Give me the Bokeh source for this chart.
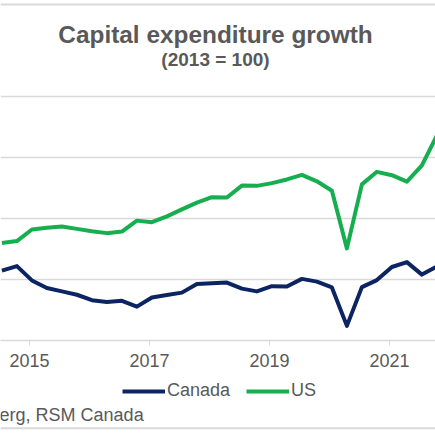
from bokeh.plotting import figure
from bokeh.layouts import column
from bokeh.models import (Range1d, FixedTicker, Grid, Label, Legend, LegendItem,
                          ColumnDataSource, Span)
from bokeh.embed import file_html
from bokeh.resources import INLINE

# Quarterly data, 2014Q3 .. 2021Q4 (index, 2013 = 100)
quarters = ["2014Q3", "2014Q4",
            "2015Q1", "2015Q2", "2015Q3", "2015Q4",
            "2016Q1", "2016Q2", "2016Q3", "2016Q4",
            "2017Q1", "2017Q2", "2017Q3", "2017Q4",
            "2018Q1", "2018Q2", "2018Q3", "2018Q4",
            "2019Q1", "2019Q2", "2019Q3", "2019Q4",
            "2020Q1", "2020Q2", "2020Q3", "2020Q4",
            "2021Q1", "2021Q2", "2021Q3", "2021Q4"]
canada = [102.9, 104.4,
          99.7, 97.2, 96.1, 95.0,
          93.2, 92.6, 93.0, 91.1,
          94.1, 94.9, 95.7, 98.5,
          98.8, 99.0, 97.0, 96.1,
          97.8, 97.7, 100.2, 99.3,
          97.4, 84.8, 97.5, 99.8,
          104.1, 105.7, 101.6, 104.3]
us = [112.0, 112.6,
      116.4, 117.0, 117.4, 116.6,
      115.8, 115.2, 115.7, 119.3,
      118.8, 120.7, 123.0, 125.2,
      127.0, 126.9, 130.8, 130.7,
      131.6, 132.8, 134.3, 132.2,
      129.1, 110.2, 131.2, 135.3,
      134.2, 132.1, 137.4, 147.2]
year_ticks = [2015, 2017, 2019, 2021]
grid_values = [100, 120, 140, 160]

# quarter -> decimal year (observation dated mid first month of quarter)
t = [int(q[:4]) + (int(q[-1]) - 1) / 4 + 0.04 for q in quarters]
src = ColumnDataSource(dict(t=t, canada=canada, us=us))

NAVY = "#0c2462"
GREEN = "#17ae50"
GRAY_TXT = "#595959"
GRID = "#d9d9d9"
FONT = "Liberation Sans"

# ---- main chart ----
p = figure(width=435, height=375, output_backend="svg", toolbar_location=None,
           x_range=Range1d(2014.5167, 2021.7667), y_range=Range1d(80, 191.475),
           y_axis_location=None, min_border_left=0, min_border_right=0,
           min_border_top=0, min_border_bottom=35)
p.outline_line_color = None
p.xgrid.visible = False
p.ygrid.visible = False
p.add_layout(Grid(dimension=1, ticker=FixedTicker(ticks=grid_values),
                  grid_line_color=GRID, grid_line_width=1.5))
# top border line of the chart box
p.add_layout(Span(location=190.2, dimension="width", line_color=GRID, line_width=2))

ax = p.xaxis[0]
ax.ticker = FixedTicker(ticks=year_ticks)
ax.axis_line_color = GRID
ax.axis_line_width = 1.5
ax.major_tick_line_color = GRID
ax.major_tick_in = 0
ax.major_tick_out = 5
ax.minor_tick_line_color = None
ax.major_label_text_font = FONT
ax.major_label_text_font_size = "18px"
ax.major_label_text_color = GRAY_TXT
ax.major_label_standoff = 8

p.line("t", "canada", source=src, line_color=NAVY, line_width=4, line_join="round")
p.line("t", "us", source=src, line_color=GREEN, line_width=4, line_join="round")

p.add_layout(Label(x=215, y=306, x_units="screen", y_units="screen",
                   text="Capital expenditure growth", text_align="center",
                   text_baseline="alphabetic", text_font=FONT,
                   text_font_size="24.4px", text_font_style="bold",
                   text_color=GRAY_TXT))
p.add_layout(Label(x=215, y=281, x_units="screen", y_units="screen",
                   text="(2013 = 100)", text_align="center",
                   text_baseline="alphabetic", text_font=FONT,
                   text_font_size="19px", text_font_style="bold",
                   text_color=GRAY_TXT))

# ---- legend + source strip ----
q = figure(width=435, height=60, output_backend="svg", toolbar_location=None,
           x_range=Range1d(0, 1), y_range=Range1d(0, 1),
           x_axis_location=None, y_axis_location=None,
           min_border_left=0, min_border_right=0, min_border_top=0, min_border_bottom=0)
q.outline_line_color = None
q.xgrid.visible = False
q.ygrid.visible = False
# same series (outside this strip's view) so the legend refers to real lines
l_ca = q.line("t", "canada", source=src, line_color=NAVY, line_width=4)
l_us = q.line("t", "us", source=src, line_color=GREEN, line_width=4)

legend = Legend(items=[LegendItem(label="Canada", renderers=[l_ca]),
                       LegendItem(label="US", renderers=[l_us])],
                orientation="horizontal", location=(122, 34),
                glyph_width=43, glyph_height=20, label_height=20,
                label_standoff=2, spacing=16, padding=0, margin=0,
                border_line_color=None, background_fill_alpha=0,
                label_text_font=FONT, label_text_font_size="18px",
                label_text_color=GRAY_TXT)
q.add_layout(legend, "center")

q.add_layout(Label(x=-129, y=21, x_units="screen", y_units="screen",
                   text="Source: Bloomberg, RSM Canada", text_align="left",
                   text_baseline="alphabetic", text_font=FONT,
                   text_font_size="18px", text_color=GRAY_TXT))
q.add_layout(Span(location=0.12, dimension="width", line_color=GRID, line_width=2))

layout = column(p, q, spacing=0)
open("out.html", "w").write(file_html(layout, INLINE))
